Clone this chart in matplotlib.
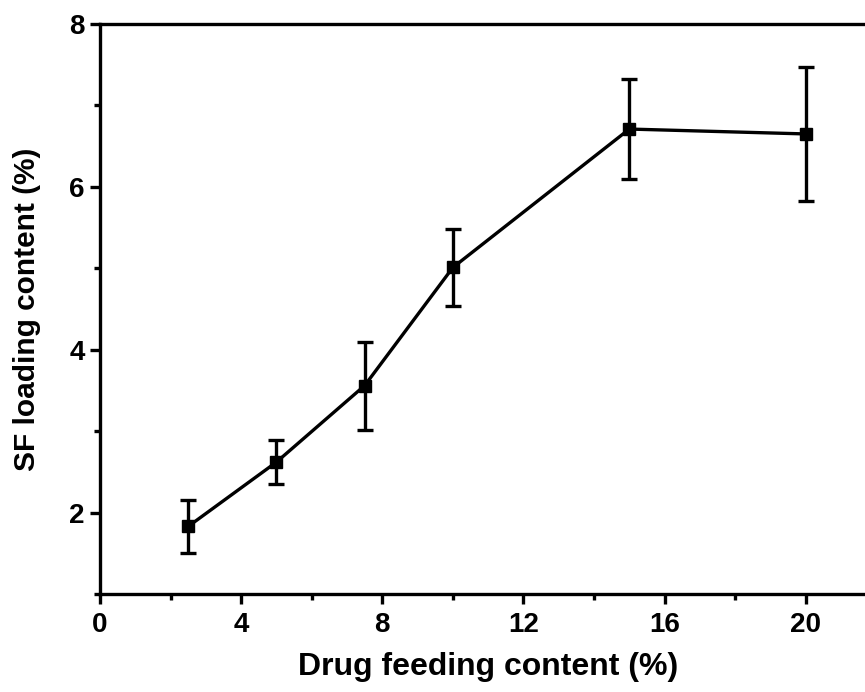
import numpy as np
import matplotlib
matplotlib.use("Agg")
import matplotlib.pyplot as plt
from matplotlib.ticker import MultipleLocator

# data
feed = [2.5, 5, 7.5, 10, 15, 20]
loading = [1.83, 2.62, 3.56, 5.01, 6.71, 6.65]
err = [0.33, 0.27, 0.54, 0.47, 0.61, 0.82]
xticks = [0, 4, 8, 12, 16, 20]
yticks = [2, 4, 6, 8]

plt.rcParams['font.family'] = ['Liberation Sans', 'DejaVu Sans']
plt.rcParams['font.weight'] = 'bold'

fig = plt.figure(figsize=(8.65, 6.92), dpi=100)
ax = fig.add_axes([0.1156, 0.1416, 0.8975, 0.8237])

ax.errorbar(feed, loading, yerr=err, color='black', lw=2.4,
            marker='s', markersize=9, capsize=6, capthick=2.4, elinewidth=2.4)

ax.set_xlim(0, 22)
ax.set_ylim(1, 8)
ax.set_xticks(xticks)
ax.set_yticks(yticks)
ax.xaxis.set_minor_locator(MultipleLocator(2))
ax.yaxis.set_minor_locator(MultipleLocator(1))

for s in ax.spines.values():
    s.set_linewidth(2.4)
ax.tick_params(which='major', direction='out', length=7, width=2.4,
               labelsize=20)
ax.tick_params(axis='x', which='major', pad=6)
ax.tick_params(axis='y', which='major', pad=4)
ax.tick_params(which='minor', direction='out', length=4, width=2.4)
ax.tick_params(top=False, right=False, which='both')

ax.set_xlabel("Drug feeding content (%)", fontsize=23, fontweight='bold', labelpad=10)
ax.set_ylabel("SF loading content (%)", fontsize=21.5, fontweight='bold', labelpad=20)

fig.savefig("out.png", dpi=100)
